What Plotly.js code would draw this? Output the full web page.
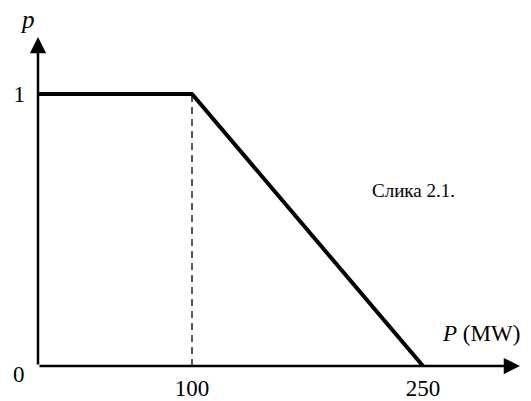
<!DOCTYPE html>
<html>
<head>
<meta charset="utf-8">
<script src="https://cdn.plot.ly/plotly-3.0.1.min.js"></script>
<style>html,body{margin:0;padding:0;background:#fff;}#chart{width:531px;height:401px;}</style>
</head>
<body>
<div id="chart"></div>
<script>
// Data
const curveP = [0, 100, 250];
const curveProb = [1, 1, 0];
const dashP = [100, 100];
const dashProb = [0, 1];
const xTickVals = [100, 250];
const xTickText = ['100', '250'];
const yTickVals = [1];
const yTickText = ['1'];

const FONT = '"Liberation Serif", "Times New Roman", Times, serif';
const XMAX = 312.99;
const YMAX = 1.2096;

const traces = [
  {x: dashP, y: dashProb, mode: 'lines', line: {color: '#000', width: 1.3, dash: '7px,5px'}, hoverinfo: 'skip', showlegend: false},
  {x: curveP, y: curveProb, mode: 'lines', line: {color: '#000', width: 4}, hoverinfo: 'skip', showlegend: false}
];

const layout = {
  width: 531, height: 401,
  margin: {l: 38, r: 11, t: 37, b: 35},
  paper_bgcolor: '#fff', plot_bgcolor: '#fff',
  showlegend: false,
  font: {family: FONT, color: '#000'},
  xaxis: {range: [0, XMAX], showgrid: false, zeroline: false, showline: false, ticks: '',
          tickvals: xTickVals, ticktext: xTickText, tickfont: {family: FONT, size: 23, color: '#000'},
          ticklabelstandoff: 6, fixedrange: true},
  yaxis: {range: [0, YMAX], showgrid: false, zeroline: false, showline: false, ticks: '',
          tickvals: yTickVals, ticktext: yTickText, tickfont: {family: FONT, size: 23, color: '#000'},
          ticklabelstandoff: 12, fixedrange: true},
  annotations: [
    {x: XMAX, y: 0, ax: 0, ay: 0, xref: 'x', yref: 'y', axref: 'x', ayref: 'y', text: '', showarrow: true,
     arrowhead: 2, arrowsize: 1.3, arrowwidth: 2.5, arrowcolor: '#000', standoff: 0, startstandoff: 0},
    {x: 0, y: YMAX, ax: 0, ay: 0, xref: 'x', yref: 'y', axref: 'x', ayref: 'y', text: '', showarrow: true,
     arrowhead: 2, arrowsize: 1.3, arrowwidth: 2.5, arrowcolor: '#000', standoff: 0, startstandoff: 0},
    {x: 0, y: 0, xref: 'x', yref: 'y', xanchor: 'right', yanchor: 'middle', xshift: -11, yshift: -8,
     text: '0', showarrow: false, font: {family: FONT, size: 23, color: '#000'}},
    {x: 0, y: YMAX, xref: 'x', yref: 'y', xanchor: 'center', yanchor: 'bottom', xshift: -11, yshift: 2,
     text: '<i>p</i>', showarrow: false, font: {family: FONT, size: 25, color: '#000'}},
    {x: XMAX, y: 0, xref: 'x', yref: 'y', xanchor: 'right', yanchor: 'bottom', xshift: 2, yshift: 18,
     text: '<i>P</i> (MW)', showarrow: false, font: {family: FONT, size: 23, color: '#000'}},
    {x: 244, y: 0.645, xref: 'x', yref: 'y', xanchor: 'center', yanchor: 'middle',
     text: 'Слика 2.1.', showarrow: false, font: {family: FONT, size: 19, color: '#000'}}
  ]
};

Plotly.newPlot('chart', traces, layout, {displayModeBar: false, staticPlot: true});
</script>
</body>
</html>
